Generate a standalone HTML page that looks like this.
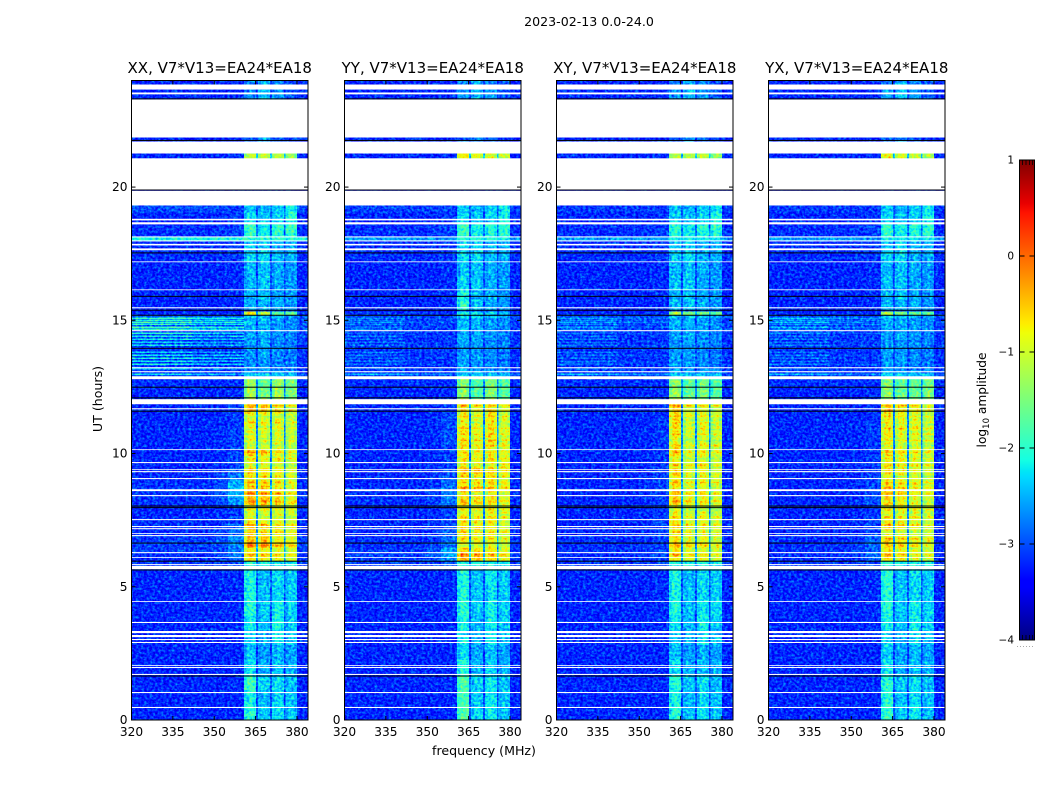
<!DOCTYPE html>
<html>
<head>
<meta charset="utf-8">
<title>2023-02-13 0.0-24.0</title>
<style>
html,body{margin:0;padding:0;background:#fff;width:1050px;height:800px;overflow:hidden}
svg{display:block}
text{font-family:"DejaVu Sans","Liberation Sans",sans-serif;fill:#000}
</style>
</head>
<body>
<svg id="chart" width="1050" height="800" viewBox="0 0 1050 800" xmlns="http://www.w3.org/2000/svg">
<defs>
<filter id="jet-map" x="0" y="0" width="100%" height="100%" color-interpolation-filters="sRGB">
<feTurbulence type="fractalNoise" baseFrequency="0.36 0.42" numOctaves="2" seed="3" result="noise"/>
<feColorMatrix in="noise" values="1 0 0 0 0  1 0 0 0 0  1 0 0 0 0  0 0 0 0 1" result="grey"/>
<feComposite in="SourceGraphic" in2="grey" operator="arithmetic" k1="0" k2="1" k3="0.32" k4="-0.16" result="mixed"/>
<feComponentTransfer in="mixed"><feFuncR id="jet-r" type="table"/><feFuncG id="jet-g" type="table"/><feFuncB id="jet-b" type="table"/></feComponentTransfer>
</filter>
<linearGradient id="jet-gradient" x1="0" y1="1" x2="0" y2="0"></linearGradient>
</defs>
<text x="589" y="26" font-size="12.6" text-anchor="middle">2023-02-13 0.0-24.0</text>
<text x="484" y="755" font-size="12.6" text-anchor="middle">frequency (MHz)</text>
<text x="0" y="0" font-size="12.6" text-anchor="middle" transform="translate(102,399) rotate(-90)">UT (hours)</text>
<text x="0" y="0" font-size="12.2" text-anchor="middle" transform="translate(986,400) rotate(-90)">log<tspan font-size="8.5" dy="3">10</tspan><tspan dy="-3"> amplitude</tspan></text>
<g id="panels"></g>
<g id="colorbar"></g>
</svg>
<script>
// Time-row boundaries in UT hours, bottom to top.
var timeEdges = [0,.56,1.13,1.65,2.25,2.81,3.38,3.94,4.5,5.06,5.63,5.96,6.08,6.26,6.45,6.68,6.9,7.13,7.35,7.58,7.8,8.06,8.33,8.55,8.78,9,9.23,9.45,9.68,9.9,10.13,10.35,10.58,10.8,11.03,11.25,11.48,11.74,12.04,12.45,12.9,13.01,13.13,13.28,13.43,13.58,13.73,13.88,14.03,14.18,14.33,14.48,14.63,14.74,14.85,14.96,15.08,15.19,15.34,15.38,15.75,16.13,16.65,17.18,17.55,18,18.15,18.38,18.6,19.05,19.31,20,21,21.4,23,23.7,24];
// Frequency column boundaries in MHz.
var freqEdges = [320,350,355,360.85,362,364.2,365.2,365.9,367,369.2,370.25,371,372.1,374.2,375.3,375.85,377,379,380,384];
// Which row field each column reads: 0 left, 1 shoulder, 2-5 bands, 6 gap, 7 blend of left and shoulder.
var columnField = [0,7,1,2,2,2,6,3,3,3,6,4,4,4,6,5,5,5,0];
// Share of the band level above the gap level, per column.
var columnWeight = [1,1,1,.8,1,.9,1,.8,1,.88,1,.82,1,.88,1,.82,1,.9,1];
// Each row: [left, shoulder, band1, band2, band3, band4, gap] as log10 amplitude.
var valuesXX = [
[-3.2,-3.2,-2,-2.35,-2.25,-2.4,-2.95],[-3.2,-3.2,-2.1,-2.45,-2.3,-2.4,-3],[-3.2,-3.15,-1.85,-2.3,-2.25,-2.4,-2.9],[-3.2,-3.2,-2.2,-2.5,-2.4,-2.5,-3.05],[-3.2,-3.2,-2.4,-2.6,-2.45,-2.55,-3.05],
[-3.2,-3.2,-2.3,-2.5,-2.2,-2.4,-3],[-3.2,-3.15,-2.15,-2.4,-2.1,-2.35,-2.95],[-3.2,-3.15,-2,-2.35,-2.15,-2.3,-2.9],[-3.2,-3.15,-2.05,-2.4,-2.3,-2.35,-2.95],[-3.2,-3.15,-2.1,-2.45,-2.25,-2.35,-2.95],
[-3.1,-3,-2,-2.1,-2.15,-2.15,-2.7],[-3.15,-2.85,-.65,-.7,-.85,-.95,-2.6],[-3.15,-2.8,-.55,-.65,-.8,-.9,-2.5],[-3.1,-2.8,-.7,-.8,-.85,-.95,-2.6],[-3.05,-2.7,-.3,-.35,-.6,-.75,-2.5],
[-3.1,-2.7,-.35,-.4,-.7,-.8,-2.5],[-3.15,-2.85,-.6,-.75,-.8,-.9,-2.6],[-3.15,-2.9,-.5,-.6,-.75,-.9,-2.6],[-3.15,-3.05,-.7,-.8,-.8,-.95,-2.7],[-3.2,-3.05,-.85,-.9,-.9,-1,-2.7],
[-3.2,-3.05,-.9,-.95,-.95,-1,-2.7],[-3.15,-2.65,-.35,-.4,-.6,-.85,-2.5],[-3.1,-2.5,-.4,-.45,-.65,-.9,-2.5],[-3.1,-2.45,-.3,-.4,-.6,-.85,-2.5],[-3.15,-2.55,-.55,-.65,-.75,-.95,-2.6],
[-3.15,-2.75,-.75,-.8,-.85,-1,-2.6],[-3.2,-2.9,-.5,-.6,-.75,-.95,-2.6],[-3.2,-3.05,-.75,-.8,-.85,-1,-2.6],[-3.2,-3.05,-.8,-.9,-.85,-1,-2.7],[-3.2,-3.05,-.5,-.55,-.8,-.95,-2.6],
[-3.2,-3.05,-.8,-.9,-.85,-1,-2.7],[-3.2,-3.05,-.95,-1,-.9,-1.05,-2.7],[-3.2,-3.05,-.8,-.9,-.85,-1,-2.7],[-3.2,-3.05,-.9,-.95,-.9,-1,-2.7],[-3.2,-3.1,-.75,-.9,-.85,-1,-2.7],
[-3.2,-3.1,-.85,-.9,-.9,-1,-2.7],[-3.2,-3.1,-.5,-.6,-.75,-1,-2.6],[-3.2,-3.1,-.4,-.5,-.75,-.95,-2.6],[-3.2,-3.15,-1.2,-1.5,-1.25,-1.45,-2.7],[-3.15,-3.15,-1.3,-1.6,-1.3,-1.5,-2.7],
[-3,-3,-2.3,-2.35,-2.35,-2.4,-2.6],[-3.1,-3.1,-2.55,-2.6,-2.6,-2.6,-2.8],[-3.15,-3.15,-2.65,-2.65,-2.75,-2.8,-3],[-3.1,-3.1,-2.6,-2.6,-2.7,-2.7,-3],[-3.15,-3.15,-2.7,-2.6,-2.75,-2.8,-3],
[-3.1,-3.1,-2.6,-2.55,-2.65,-2.7,-3],[-3.15,-3.15,-2.65,-2.55,-2.7,-2.8,-3],[-3.1,-3.1,-2.6,-2.55,-2.7,-2.75,-3],[-3.05,-3.05,-2.55,-2.5,-2.65,-2.7,-3],[-3.1,-3.1,-2.6,-2.55,-2.7,-2.75,-3],
[-3,-3.05,-2.5,-2.5,-2.6,-2.7,-2.95],[-3.05,-3.05,-2.6,-2.5,-2.65,-2.75,-3],[-2.95,-3,-2.45,-2.45,-2.55,-2.65,-2.95],[-3,-3.05,-2.55,-2.5,-2.6,-2.7,-2.95],[-2.9,-2.95,-2.35,-2.4,-2.5,-2.65,-2.9],
[-3,-3.05,-2.5,-2.45,-2.6,-2.7,-2.95],[-2.9,-2.95,-2.3,-2.35,-2.45,-2.6,-2.9],[-3.15,-3.15,-.55,-1.05,-1.6,-1.6,-2.6],[-3.4,-3.4,-3.1,-3.1,-3.1,-3.1,-3.2],[-3.2,-3.15,-2.5,-2.45,-2.5,-2.6,-3],
[-3.2,-3.15,-2.5,-2.4,-2.55,-2.6,-3],[-3.2,-3.15,-2.45,-2.35,-2.55,-2.6,-3],[-3.2,-3.15,-2.45,-2.4,-2.5,-2.6,-3],[-3.15,-3.1,-2.3,-2.25,-2.5,-2.5,-2.95],[-3.15,-3.1,-2.35,-2.35,-2.5,-2.5,-2.95],
[-2.1,-2.1,-2,-2,-2,-2.1,-2.2],[-3.15,-3.05,-1.9,-2.15,-2,-1.9,-2.8],[-3.15,-3.05,-1.85,-2.15,-1.95,-1.85,-2.8],[-3.2,-3.1,-2.25,-2.4,-2.3,-2,-2.9],[-3,-3.05,-2.4,-2.5,-2.3,-2.1,-2.9],
[-3.3,-3.3,-3.2,-3.2,-3.2,-3.2,-3.2],[-3.2,-3.2,-3.2,-3.2,-3.2,-3.2,-3.2],[-3.2,-3.15,-1.05,-1.05,-1.05,-1.3,-2.4],[-3.2,-3.2,-2.9,-2.6,-2.9,-3.1,-3.1],[-3.2,-3.15,-2.7,-2.4,-2.6,-2.9,-3.1],[-3.2,-3.2,-2.8,-2.5,-2.7,-3,-3.1]
];
var valuesYY = [
[-3.2,-3.2,-1.75,-2.3,-2.15,-2.4,-2.95],[-3.2,-3.2,-1.8,-2.35,-2.2,-2.4,-3],[-3.2,-3.15,-1.75,-2.3,-2.2,-2.4,-2.9],[-3.2,-3.2,-2,-2.45,-2.35,-2.5,-3.05],[-3.2,-3.2,-2.25,-2.55,-2.4,-2.55,-3.05],
[-3.2,-3.2,-2.2,-2.5,-2.2,-2.4,-3],[-3.2,-3.15,-2.1,-2.4,-2.15,-2.35,-2.95],[-3.2,-3.15,-2,-2.35,-2.15,-2.3,-2.9],[-3.2,-3.15,-2.05,-2.35,-2.25,-2.35,-2.95],[-3.2,-3.15,-2.05,-2.4,-2.2,-2.35,-2.95],
[-3.05,-2.95,-2,-2.1,-2.1,-2.15,-2.7],[-3.1,-2.7,-.35,-.45,-.6,-.8,-2.5],[-3.05,-2.55,-.25,-.4,-.5,-.75,-2.5],[-3.1,-2.6,-.5,-.65,-.7,-.85,-2.6],[-3.15,-2.8,-.8,-.85,-.8,-.95,-2.6],
[-3.15,-2.85,-.65,-.8,-.75,-.9,-2.6],[-3.2,-2.9,-.7,-.85,-.75,-.95,-2.7],[-3.2,-3,-.5,-.6,-.65,-.85,-2.6],[-3.2,-3,-.65,-.75,-.7,-.9,-2.7],[-3.2,-3.05,-.8,-.9,-.8,-.95,-2.7],
[-3.2,-3.05,-.85,-.95,-.85,-1,-2.7],[-3.15,-2.8,-.5,-.65,-.65,-.85,-2.6],[-3.15,-2.75,-.6,-.7,-.6,-.85,-2.6],[-3.15,-2.8,-.4,-.5,-.55,-.75,-2.6],[-3.2,-2.9,-.65,-.75,-.7,-.85,-2.6],
[-3.2,-2.95,-.7,-.8,-.7,-.9,-2.7],[-3.2,-3,-.45,-.45,-.55,-.75,-2.6],[-3.2,-3.05,-.65,-.75,-.75,-.6,-2.6],[-3.2,-3.05,-.75,-.85,-.75,-.9,-2.7],[-3.2,-3.05,-.65,-.8,-.7,-.85,-2.7],
[-3.2,-3.05,-.75,-.9,-.75,-.95,-2.7],[-3.2,-3,-.65,-.85,-.65,-.95,-2.7],[-3.2,-3,-.7,-.9,-.6,-.95,-2.7],[-3.2,-3,-.6,-.85,-.65,-.9,-2.7],[-3.2,-3,-.7,-.9,-.6,-.95,-2.7],
[-3.2,-3.05,-.75,-.9,-.65,-.95,-2.7],[-3.2,-3.1,-.7,-.9,-.7,-1,-2.7],[-3.2,-3.1,-.45,-.65,-.6,-.9,-2.6],[-3.2,-3.15,-1.35,-1.7,-1.4,-1.7,-2.7],[-3.15,-3.15,-1.4,-1.75,-1.45,-1.7,-2.7],
[-3,-3,-2.25,-2.3,-2.35,-2.4,-2.6],[-3.1,-3.1,-2.5,-2.55,-2.6,-2.6,-2.8],[-3.15,-3.15,-2.55,-2.6,-2.7,-2.8,-3],[-3.1,-3.1,-2.55,-2.6,-2.7,-2.75,-3],[-3.15,-3.15,-2.6,-2.6,-2.7,-2.8,-3],
[-3.1,-3.1,-2.55,-2.6,-2.65,-2.75,-3],[-3.15,-3.15,-2.6,-2.6,-2.7,-2.8,-3],[-3.1,-3.1,-2.6,-2.6,-2.7,-2.75,-3],[-3.1,-3.1,-2.55,-2.6,-2.65,-2.7,-3],[-3.15,-3.15,-2.55,-2.55,-2.7,-2.75,-3],
[-3.1,-3.1,-2.5,-2.55,-2.6,-2.7,-2.95],[-3.1,-3.1,-2.55,-2.55,-2.65,-2.75,-3],[-3.05,-3.05,-2.45,-2.5,-2.55,-2.65,-2.95],[-3.05,-3.05,-2.5,-2.55,-2.6,-2.7,-2.95],[-3.05,-3.05,-2.4,-2.45,-2.5,-2.65,-2.9],
[-3.05,-3.05,-2.45,-2.5,-2.6,-2.7,-2.95],[-3,-3.05,-2.3,-2.4,-2.45,-2.6,-2.9],[-3.15,-3.15,-2,-2.2,-2.3,-2.4,-2.8],[-3.4,-3.4,-3.1,-3.1,-3.1,-3.1,-3.2],[-3.2,-3.15,-1.95,-2.4,-2.5,-2.6,-3],
[-3.2,-3.15,-2.1,-2.4,-2.5,-2.6,-3],[-3.2,-3.15,-2.3,-2.35,-2.5,-2.6,-3],[-3.2,-3.15,-2.4,-2.4,-2.5,-2.6,-3],[-3.15,-3.1,-2.25,-2.25,-2.45,-2.5,-2.95],[-3.15,-3.1,-2.3,-2.3,-2.45,-2.5,-2.95],
[-2.6,-2.6,-2.1,-2.1,-2.15,-2.2,-2.4],[-3.15,-3.05,-1.9,-2.15,-2.05,-2,-2.8],[-3.15,-3.05,-1.85,-2.15,-2,-1.95,-2.8],[-3.2,-3.1,-2.25,-2.4,-2.3,-2.1,-2.9],[-3.05,-3.05,-2.35,-2.5,-2.35,-2.2,-2.9],
[-3.3,-3.3,-3.2,-3.2,-3.2,-3.2,-3.2],[-3.2,-3.2,-3.2,-3.2,-3.2,-3.2,-3.2],[-3.2,-3.15,-.65,-.85,-.85,-1,-2.4],[-3.2,-3.2,-2.9,-2.6,-2.9,-3.1,-3.1],[-3.2,-3.15,-2.6,-2.4,-2.6,-2.9,-3.1],[-3.2,-3.2,-2.7,-2.5,-2.7,-3,-3.1]
];
var valuesXY = [
[-3.2,-3.2,-2,-2.4,-2.25,-2.4,-2.95],[-3.2,-3.2,-2.1,-2.45,-2.3,-2.4,-3],[-3.2,-3.15,-2,-2.4,-2.25,-2.45,-2.9],[-3.2,-3.2,-2.25,-2.5,-2.4,-2.5,-3.05],[-3.2,-3.2,-2.4,-2.6,-2.5,-2.55,-3.05],
[-3.2,-3.2,-2.35,-2.5,-2.25,-2.4,-3],[-3.2,-3.15,-2.2,-2.45,-2.15,-2.35,-2.95],[-3.2,-3.15,-2.05,-2.4,-2.2,-2.3,-2.9],[-3.2,-3.15,-2.1,-2.4,-2.3,-2.35,-2.95],[-3.2,-3.15,-2.1,-2.45,-2.25,-2.35,-2.95],
[-3.1,-3,-2.05,-2.1,-2.15,-2.15,-2.7],[-3.15,-3.05,-.65,-.9,-.85,-.95,-2.6],[-3.15,-3,-.55,-.85,-.85,-.95,-2.6],[-3.15,-3.05,-.7,-.95,-.9,-1,-2.6],[-3.15,-3.05,-.5,-.8,-.75,-.9,-2.6],
[-3.15,-3.05,-.55,-.8,-.8,-.9,-2.6],[-3.2,-3.05,-.7,-.95,-.9,-1,-2.7],[-3.2,-3.05,-.6,-.9,-.85,-.95,-2.6],[-3.2,-3.05,-.65,-.95,-.85,-.95,-2.7],[-3.2,-3.1,-.75,-1,-.9,-1.05,-2.7],
[-3.2,-3.1,-.75,-1,-.95,-1.05,-2.7],[-3.2,-3.05,-.5,-.8,-.8,-.95,-2.6],[-3.2,-3.05,-.55,-.85,-.8,-.95,-2.6],[-3.2,-3.05,-.5,-.8,-.75,-.9,-2.6],[-3.2,-3.05,-.6,-.95,-.85,-.95,-2.6],
[-3.2,-3.05,-.7,-1,-.85,-1,-2.7],[-3.2,-3.1,-.5,-.85,-.75,-.95,-2.6],[-3.2,-3.1,-.7,-.95,-.85,-1,-2.7],[-3.2,-3.1,-.75,-1,-.9,-1,-2.7],[-3.2,-3.1,-.5,-.9,-.8,-.95,-2.7],
[-3.2,-3.1,-.7,-1,-.9,-1,-2.7],[-3.2,-3.1,-.75,-1.05,-.9,-1.05,-2.7],[-3.2,-3.1,-.7,-1.05,-.9,-1,-2.7],[-3.2,-3.1,-.65,-1,-.85,-1,-2.7],[-3.2,-3.1,-.65,-1.05,-.9,-1.05,-2.7],
[-3.2,-3.15,-.6,-1,-.9,-1.05,-2.7],[-3.2,-3.15,-.45,-.85,-.85,-1,-2.7],[-3.2,-3.15,-.35,-.8,-.85,-1,-2.7],[-3.2,-3.15,-1.3,-1.6,-1.5,-1.7,-2.7],[-3.15,-3.15,-1.35,-1.65,-1.55,-1.75,-2.7],
[-3,-3,-2.3,-2.35,-2.4,-2.4,-2.6],[-3.1,-3.1,-2.5,-2.6,-2.6,-2.65,-2.85],[-3.15,-3.15,-2.6,-2.65,-2.75,-2.8,-3],[-3.1,-3.1,-2.55,-2.6,-2.7,-2.75,-3],[-3.15,-3.15,-2.6,-2.6,-2.75,-2.8,-3],
[-3.1,-3.1,-2.55,-2.55,-2.65,-2.75,-3],[-3.15,-3.15,-2.6,-2.6,-2.7,-2.8,-3],[-3.1,-3.1,-2.6,-2.6,-2.7,-2.75,-3],[-3.1,-3.1,-2.6,-2.55,-2.65,-2.75,-3],[-3.15,-3.15,-2.6,-2.55,-2.7,-2.75,-3],
[-3.1,-3.1,-2.55,-2.5,-2.6,-2.7,-2.95],[-3.1,-3.1,-2.6,-2.55,-2.65,-2.75,-3],[-3.05,-3.05,-2.5,-2.5,-2.55,-2.65,-2.95],[-3.05,-3.05,-2.55,-2.5,-2.6,-2.7,-2.95],[-3.05,-3.05,-2.45,-2.45,-2.5,-2.65,-2.9],
[-3.05,-3.05,-2.5,-2.5,-2.6,-2.7,-2.95],[-3,-3.05,-2.4,-2.4,-2.45,-2.6,-2.9],[-3.15,-3.15,-1.1,-1.5,-1.55,-1.6,-2.6],[-3.4,-3.4,-3.1,-3.1,-3.1,-3.1,-3.2],[-3.2,-3.15,-2.45,-2.4,-2.5,-2.6,-3],
[-3.2,-3.15,-2.45,-2.4,-2.55,-2.6,-3],[-3.2,-3.15,-2.4,-2.35,-2.55,-2.6,-3],[-3.2,-3.15,-2.45,-2.4,-2.5,-2.6,-3],[-3.15,-3.1,-2.3,-2.25,-2.5,-2.5,-2.95],[-3.15,-3.1,-2.35,-2.3,-2.5,-2.5,-2.95],
[-2.6,-2.6,-2.2,-2.15,-2.2,-2.25,-2.4],[-3.15,-3.05,-2,-2.15,-2.05,-2,-2.8],[-3.15,-3.05,-1.95,-2.15,-2,-1.95,-2.8],[-3.2,-3.1,-2.3,-2.4,-2.3,-2.1,-2.9],[-3.1,-3.1,-2.4,-2.5,-2.35,-2.2,-2.9],
[-3.3,-3.3,-3.2,-3.2,-3.2,-3.2,-3.2],[-3.2,-3.2,-3.2,-3.2,-3.2,-3.2,-3.2],[-3.2,-3.15,-1.05,-1.05,-1.1,-1.3,-2.4],[-3.2,-3.2,-2.9,-2.6,-2.9,-3.1,-3.1],[-3.2,-3.15,-2.6,-2.4,-2.6,-2.9,-3.1],[-3.2,-3.2,-2.8,-2.5,-2.7,-3,-3.1]
];
var valuesYX = [
[-3.2,-3.2,-1.95,-2.35,-2.2,-2.4,-2.95],[-3.2,-3.2,-2,-2.4,-2.25,-2.4,-3],[-3.2,-3.15,-2,-2.35,-2.25,-2.4,-2.9],[-3.2,-3.2,-2.2,-2.5,-2.4,-2.5,-3.05],[-3.2,-3.2,-2.35,-2.55,-2.45,-2.55,-3.05],
[-3.2,-3.2,-2.3,-2.5,-2.25,-2.4,-3],[-3.2,-3.15,-2.15,-2.4,-2.15,-2.35,-2.95],[-3.2,-3.15,-2,-2.35,-2.15,-2.3,-2.9],[-3.2,-3.15,-2,-2.35,-2.3,-2.35,-2.95],[-3.2,-3.15,-2,-2.4,-2.25,-2.35,-2.95],
[-3.1,-3,-2,-2.1,-2.15,-2.15,-2.7],[-3.15,-2.9,-.6,-.75,-.9,-1,-2.6],[-3.15,-2.85,-.5,-.7,-.85,-.95,-2.6],[-3.15,-2.9,-.7,-.8,-.9,-1,-2.6],[-3.15,-2.85,-.55,-.6,-.8,-.9,-2.6],
[-3.15,-2.9,-.6,-.7,-.8,-.9,-2.6],[-3.2,-3.05,-.75,-.85,-.9,-1,-2.7],[-3.2,-3.05,-.6,-.75,-.85,-.95,-2.6],[-3.2,-3.05,-.7,-.85,-.85,-1,-2.7],[-3.2,-3.1,-.8,-.9,-.9,-1.05,-2.7],
[-3.2,-3.1,-.85,-.95,-.95,-1.05,-2.7],[-3.2,-3,-.5,-.65,-.8,-.95,-2.6],[-3.2,-3,-.55,-.75,-.85,-.95,-2.6],[-3.2,-3,-.5,-.6,-.8,-.9,-2.6],[-3.2,-3.05,-.65,-.8,-.85,-.95,-2.6],
[-3.2,-3.05,-.75,-.85,-.85,-1,-2.7],[-3.2,-3.1,-.55,-.7,-.8,-.95,-2.6],[-3.2,-3.1,-.75,-.85,-.85,-1,-2.7],[-3.2,-3.1,-.8,-.9,-.9,-1,-2.7],[-3.2,-3.1,-.6,-.75,-.85,-.95,-2.7],
[-3.2,-3.1,-.75,-.9,-.9,-1,-2.7],[-3.2,-3.1,-.85,-.95,-.9,-1.05,-2.7],[-3.2,-3.1,-.75,-.9,-.9,-1,-2.7],[-3.2,-3.1,-.7,-.85,-.85,-1,-2.7],[-3.2,-3.1,-.75,-.9,-.9,-1.05,-2.7],
[-3.2,-3.15,-.7,-.85,-.9,-1.05,-2.7],[-3.2,-3.15,-.6,-.75,-.85,-1,-2.7],[-3.2,-3.15,-.55,-.65,-.85,-1,-2.7],[-3.2,-3.15,-1.35,-1.6,-1.6,-1.45,-2.7],[-3.15,-3.15,-1.4,-1.65,-1.65,-1.5,-2.7],
[-3,-3,-2.25,-2.35,-2.4,-2.4,-2.6],[-3.1,-3.1,-2.5,-2.6,-2.6,-2.65,-2.85],[-3.15,-3.15,-2.6,-2.65,-2.75,-2.8,-3],[-3.1,-3.1,-2.55,-2.6,-2.7,-2.75,-3],[-3.15,-3.15,-2.6,-2.6,-2.75,-2.8,-3],
[-3.1,-3.1,-2.55,-2.6,-2.65,-2.75,-3],[-3.15,-3.15,-2.6,-2.6,-2.7,-2.8,-3],[-3.1,-3.1,-2.6,-2.6,-2.7,-2.75,-3],[-3.1,-3.1,-2.6,-2.6,-2.65,-2.75,-3],[-3.15,-3.15,-2.6,-2.6,-2.7,-2.75,-3],
[-3.1,-3.1,-2.55,-2.55,-2.6,-2.7,-2.95],[-3.1,-3.1,-2.6,-2.55,-2.65,-2.75,-3],[-3.05,-3.05,-2.5,-2.5,-2.55,-2.65,-2.95],[-3.05,-3.05,-2.55,-2.55,-2.6,-2.7,-2.95],[-3.05,-3.05,-2.45,-2.45,-2.5,-2.65,-2.9],
[-3.05,-3.05,-2.5,-2.5,-2.6,-2.7,-2.95],[-3,-3.05,-2.4,-2.4,-2.45,-2.6,-2.9],[-3.15,-3.15,-1.05,-1.45,-1.6,-1.6,-2.6],[-3.4,-3.4,-3.1,-3.1,-3.1,-3.1,-3.2],[-3.2,-3.15,-2.45,-2.45,-2.5,-2.6,-3],
[-3.2,-3.15,-2.45,-2.4,-2.55,-2.6,-3],[-3.2,-3.15,-2.4,-2.4,-2.55,-2.6,-3],[-3.2,-3.15,-2.45,-2.4,-2.5,-2.6,-3],[-3.15,-3.1,-2.3,-2.25,-2.5,-2.5,-2.95],[-3.15,-3.1,-2.35,-2.3,-2.5,-2.5,-2.95],
[-2.6,-2.6,-2.2,-2.15,-2.2,-2.25,-2.4],[-3.15,-3.05,-1.95,-2.15,-2.05,-2,-2.8],[-3.15,-3.05,-1.95,-2.15,-2,-1.95,-2.8],[-3.2,-3.1,-2.3,-2.4,-2.3,-2.1,-2.9],[-3.1,-3.1,-2.4,-2.5,-2.35,-2.2,-2.9],
[-3.3,-3.3,-3.2,-3.2,-3.2,-3.2,-3.2],[-3.2,-3.2,-3.2,-3.2,-3.2,-3.2,-3.2],[-3.2,-3.15,-.75,-.9,-1,-1.15,-2.4],[-3.2,-3.2,-2.9,-2.6,-2.9,-3.1,-3.1],[-3.2,-3.15,-2.6,-2.4,-2.6,-2.9,-3.1],[-3.2,-3.2,-2.8,-2.5,-2.7,-3,-3.1]
];
// Thin horizontal streaks between 12.9 and 15.1 h, and their levels in each panel.
var streakHours = [15.08,15,14.93,14.85,14.74,14.66,14.51,14.4,14.29,14.18,14.06,13.8,13.69,13.58,13.46,13.35,13.18,12.98];
var streakLevelsXX = [-1.95,-2.05,-1.9,-2.05,-1.85,-2,-2.05,-2.15,-2.25,-2.35,-2.25,-2.35,-2.25,-2.1,-2.25,-2.15,-2.35,-2.25];
var streakLevelsYY = [-2.7,-2.8,-2.7,-2.85,-2.8,-2.8,-2.85,-2.8,-2.85,-2.8,-2.85,-2.8,-2.85,-2.85,-2.8,-2.8,-2.85,-2.5];
var streakLevelsXY = [-2.6,-2.7,-2.6,-2.7,-2.65,-2.8,-2.8,-2.85,-2.85,-2.85,-2.8,-2.85,-2.85,-2.85,-2.8,-2.8,-2.85,-2.5];
var streakLevelsYX = [-2.4,-2.6,-2.5,-2.6,-2.5,-2.7,-2.7,-2.8,-2.8,-2.8,-2.75,-2.85,-2.8,-2.8,-2.8,-2.75,-2.85,-2.5];
// Narrow lines inside the bright bands: hour, and the offset from the row's band level in each panel.
var hotLineHours = [6.2,6.55,6.8,7.05,7.32,7.62,7.9,8.2,8.5,8.72,8.9,9.15,9.55,9.8,10.05,10.3,10.5,10.72,10.95,11.15,11.4,11.62,11.8];
var hotLineOffsetsXX = [.3,.35,-.2,.3,.25,-.2,.3,.3,.35,-.2,.3,.25,-.25,.3,.35,-.25,.2,-.2,.2,.3,-.15,.3,.35];
var hotLineOffsetsYY = [.3,-.2,.25,.3,-.2,.25,.3,.2,-.2,.3,.25,.3,-.2,.25,.2,.3,.35,.25,.3,-.2,.3,.25,.2];
var hotLineOffsetsXY = [.35,.25,-.2,.3,.2,.3,-.2,.3,.25,-.2,.3,.2,.3,-.2,.25,.3,-.2,.3,.2,.25,.3,-.15,.35];
var hotLineOffsetsYX = [.3,.2,.3,-.2,.3,.25,.3,-.2,.3,.25,.3,-.2,.3,.25,.3,-.2,.3,.2,.3,.2,.25,.3,.3];
// Spans with no data, drawn white: [from hour, to hour].
var gapSpans = [[.45,.49],[1.01,1.05],[1.69,1.73],[1.95,1.99],[2.03,2.06],[2.89,2.93],[3,3.04],[3.11,3.19],[3.26,3.34],[3.64,3.68],[4.43,4.46],[5.66,5.78],[5.81,5.85],[6.08,6.11],[6.26,6.3],[6.9,6.94],[6.98,7.01],[7.16,7.2],[7.24,7.28],[7.5,7.54],[8.4,8.44],[8.59,8.66],[9.04,9.08],[9.3,9.34],[9.38,9.41],[9.64,9.68],[10.13,10.16],[11.66,11.7],[11.85,12.04],[12.79,12.9],[13.05,13.09],[13.2,13.24],[14.59,14.63],[15.45,15.49],[16.13,16.16],[17.18,17.21],[17.63,17.7],[17.81,17.87],[17.96,18],[18.11,18.15],[18.6,18.68],[18.75,18.81],[19.31,19.86],[19.91,21.08],[21.26,21.71],[21.86,23.29],[23.48,23.55],[23.66,23.85]];
// Flagged integrations, drawn as black lines (hours).
var blackLines = [1.65,5.63,5.96,6.64,7.97,8.03,11.59,12.09,12.49,13.95,15.19,15.38,15.9,17.53,19.89,21.75,23.31];
// Panel titles and tick labels.
var panelTitles = ['XX, V7*V13=EA24*EA18','YY, V7*V13=EA24*EA18','XY, V7*V13=EA24*EA18','YX, V7*V13=EA24*EA18'];
var panelNames = ['xx','yy','xy','yx'];
var panelValues = [valuesXX,valuesYY,valuesXY,valuesYX];
var panelStreaks = [streakLevelsXX,streakLevelsYY,streakLevelsXY,streakLevelsYX];
var panelHotLines = [hotLineOffsetsXX,hotLineOffsetsYY,hotLineOffsetsXY,hotLineOffsetsYX];
var xTickLabels = [320,335,350,365,380];
var yTickLabels = [0,5,10,15,20];
var colorbarTicks = [1,0,-1,-2,-3,-4];
var panelLefts = [131.5,344.5,556.5,768.5];

var NS = 'http://www.w3.org/2000/svg';
var PW = 176.5, TOP = 80.5, BOTTOM = 720;
function xScale(left, f){ return left + (f-320)/64*PW; }
function yScale(h){ return BOTTOM - h/24*(BOTTOM-TOP); }
function interp(t, pts){
  for (var i=1;i<pts.length;i++){
    if (t<=pts[i][0]) return pts[i-1][1]+(pts[i][1]-pts[i-1][1])*(t-pts[i-1][0])/(pts[i][0]-pts[i-1][0]);
  }
  return pts[pts.length-1][1];
}
var jetR=[[0,0],[.35,0],[.66,1],[.89,1],[1,.5]];
var jetG=[[0,0],[.125,0],[.375,1],[.64,1],[.91,0],[1,0]];
var jetB=[[0,.5],[.11,1],[.34,1],[.65,0],[1,0]];
function jet(t){
  t=Math.max(0,Math.min(1,t));
  return 'rgb('+Math.round(interp(t,jetR)*255)+','+Math.round(interp(t,jetG)*255)+','+Math.round(interp(t,jetB)*255)+')';
}
// Cells carry the normalised value as grey; the jet-map filter turns it into colour.
function valueGrey(v){
  var k=Math.round(Math.max(0,Math.min(1,(v+4)/5))*255);
  return 'rgb('+k+','+k+','+k+')';
}
function tableFor(pts){
  var out=[];
  for (var i=0;i<=128;i++) out.push(interp(i/128,pts).toFixed(4));
  return out.join(' ');
}
document.getElementById('jet-r').setAttribute('tableValues',tableFor(jetR));
document.getElementById('jet-g').setAttribute('tableValues',tableFor(jetG));
document.getElementById('jet-b').setAttribute('tableValues',tableFor(jetB));
function mk(tag, parent, attrs){
  var e=document.createElementNS(NS,tag);
  for (var k in attrs) e.setAttribute(k,attrs[k]);
  parent.appendChild(e);
  return e;
}
function cellValue(row,c){
  var field=columnField[c], w=columnWeight[c];
  if (field===7) return row[0]*.75+row[1]*.25;
  if (field>=2 && field<=5) return row[6]+(row[field]-row[6])*w;
  return row[field];
}
function rowAt(values,h){
  for (var r=0;r<values.length;r++){ if (h>=timeEdges[r] && h<timeEdges[r+1]) return values[r]; }
  return values[values.length-1];
}
var root=document.getElementById('panels');
panelValues.forEach(function(values,p){
  var left=panelLefts[p];
  var g=mk('g',root,{});
  
  
  var cells=mk('g',g,{'shape-rendering':'crispEdges',filter:'url(#jet-map)'});
  
  
  values.forEach(function(row,r){
    var y1=yScale(timeEdges[r+1]), y0=yScale(timeEdges[r]);
    for (var c=0;c<columnField.length;c++){
      var x0=xScale(left,freqEdges[c]), x1=xScale(left,freqEdges[c+1]);
      var cell=mk('rect',cells,{x:x0,y:y1,width:x1-x0,height:y0-y1,fill:valueGrey(cellValue(row,c))});
      
      
    }
  });
  streakHours.forEach(function(h,i){
    var level=panelStreaks[p][i];
    var y=yScale(h);
    var a=mk('rect',cells,{x:xScale(left,320),y:y-.7,width:xScale(left,342)-xScale(left,320),height:1.4,fill:valueGrey(level)});
    
    
    var b=mk('rect',cells,{x:xScale(left,342),y:y-.7,width:xScale(left,360.85)-xScale(left,342),height:1.4,fill:valueGrey(level-.25)});
    
    
  });
  hotLineHours.forEach(function(h,i){
    var row=rowAt(values,h), offset=panelHotLines[p][i], y=yScale(h);
    for (var c=0;c<columnField.length;c++){
      if (columnField[c]<2 || columnField[c]>5) continue;
      var x0=xScale(left,freqEdges[c]), x1=xScale(left,freqEdges[c+1]);
      var hot=mk('rect',cells,{x:x0,y:y-.8,width:x1-x0,height:1.6,fill:valueGrey(cellValue(row,c)+offset)});
      
      
    }
  });
  gapSpans.forEach(function(s){
    var gap=mk('rect',g,{x:left,y:yScale(s[1]),width:PW,height:yScale(s[0])-yScale(s[1]),fill:'#fff'});
    
    
  });
  blackLines.forEach(function(h){
    var line=mk('rect',g,{x:left,y:yScale(h)-.5,width:PW,height:1,fill:'#000'});
    
    
  });
  var frame=mk('rect',g,{x:left,y:TOP,width:PW,height:BOTTOM-TOP,fill:'none',stroke:'#000','stroke-width':1});
  
  
  xTickLabels.forEach(function(t){
    var x=xScale(left,t);
    var tb=mk('line',g,{x1:x,x2:x,y1:BOTTOM,y2:BOTTOM-4,stroke:'#000'});
    
    
    var tt=mk('line',g,{x1:x,x2:x,y1:TOP,y2:TOP+4,stroke:'#000'});
    
    
    var lab=mk('text',g,{x:x,y:736,'font-size':12.2,'text-anchor':'middle'});
    
    
    lab.textContent=t;
  });
  yTickLabels.forEach(function(t){
    var y=yScale(t);
    var tl=mk('line',g,{x1:left,x2:left+4,y1:y,y2:y,stroke:'#000'});
    
    
    var tr=mk('line',g,{x1:left+PW,x2:left+PW-4,y1:y,y2:y,stroke:'#000'});
    
    
    var lab=mk('text',g,{x:left-4,y:y+4,'font-size':12.2,'text-anchor':'end'});
    
    
    lab.textContent=t;
  });
  var title=mk('text',g,{x:left+PW/2,y:73,'font-size':15,'text-anchor':'middle'});
  
  
  title.textContent=panelTitles[p];
});

// Colorbar
var grad=document.getElementById('jet-gradient');
[0,.11,.125,.34,.35,.375,.5,.64,.65,.66,.89,.91,1].forEach(function(t){
  mk('stop',grad,{offset:t,'stop-color':jet(t)});
});
var cb=document.getElementById('colorbar');
var CX=1019.5, CW=15, CT=160, CB=640;
function cbScale(v){ return CB-(v+4)/5*(CB-CT); }
var bar=mk('rect',cb,{x:CX,y:CT,width:CW,height:CB-CT,fill:'url(#jet-gradient)',stroke:'#000','stroke-width':1});


colorbarTicks.forEach(function(v){
  var y=cbScale(v);
  var a=mk('line',cb,{x1:CX,x2:CX+5,y1:y,y2:y,stroke:'#000'});
  
  
  var b=mk('line',cb,{x1:CX+CW-5,x2:CX+CW,y1:y,y2:y,stroke:'#000'});
  
  
  var lab=mk('text',cb,{x:1014,y:y+3.5,'font-size':10.5,'text-anchor':'end'});
  
  
  lab.textContent=String(v).replace('-','\u2212');
});
[3,6.5,10,13].forEach(function(dx){
  var t1=mk('line',cb,{x1:CX+dx,x2:CX+dx,y1:CT,y2:CT+5,stroke:'#000','stroke-width':.8});
  
  
  var t2=mk('line',cb,{x1:CX+dx,x2:CX+dx,y1:CB,y2:CB-5,stroke:'#000','stroke-width':.8});
  
  
});
var dots=mk('line',cb,{x1:1017,x2:1035,y1:646.5,y2:646.5,stroke:'#aaa','stroke-width':1,'stroke-dasharray':'1 2'});


</script>
</body>
</html>
